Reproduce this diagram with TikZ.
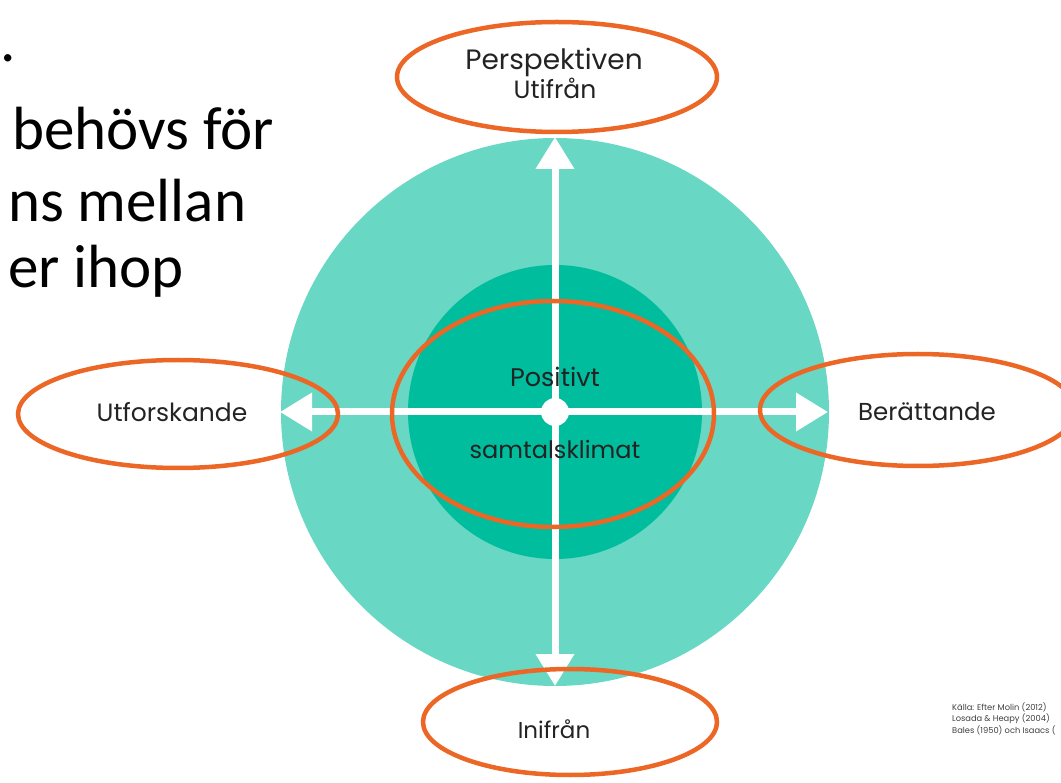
\documentclass[tikz,border=0pt]{standalone}
\usepackage{fontspec}
\setmainfont{Poppins}
\newfontfamily\slidefont{Carlito}
\usetikzlibrary{arrows.meta}
\definecolor{outerteal}{RGB}{104,215,195}
\definecolor{innerteal}{RGB}{0,189,157}
\definecolor{ringorange}{RGB}{236,103,38}
\definecolor{labeltext}{RGB}{35,35,35}
\tikzset{
  ring/.style={draw=ringorange, line width=4.5pt},
  axisline/.style={draw=white, line width=7pt, {Triangle[width=37pt,length=32pt]}-{Triangle[width=37pt,length=32pt]}},
  lbl/.style={text=labeltext, inner sep=0pt, anchor=base},
  slide/.style={font=\slidefont\fontsize{61}{66}\selectfont, text=black, inner sep=0pt, anchor=base west},
  src/.style={font=\fontsize{8.3}{10}\selectfont, text=black!75, inner sep=0pt, anchor=base west}
}
\begin{document}
\begin{tikzpicture}[x=1pt,y=-1pt]
\useasboundingbox (0,0) rectangle (1061,783);
% circles
\fill[outerteal] (555,412) circle (274);
\fill[innerteal] (555,412) circle (147);
% axes
\coordinate (ptop) at (555,137);
\coordinate (pbot) at (555,686);
\coordinate (pleft) at (280,412);
\coordinate (pright) at (828,412);
\draw[axisline] (ptop) -- (pbot);
\draw[axisline] (pleft) -- (pright);
\node[circle, fill=white, minimum size=28pt, inner sep=0pt] (center) at (555,412) {};
% labels
\node[lbl, font=\fontsize{28}{30}\selectfont] (persp) at (554,70) {Perspektiven};
\node[lbl, font=\fontsize{25}{28}\selectfont] (utifran) at (555,99) {Utifrån};
\node[lbl, font=\fontsize{25}{28}\selectfont] (utf) at (172,422) {Utforskande};
\node[lbl, font=\fontsize{24.5}{28}\selectfont] (ber) at (927,421) {Berättande};
\node[lbl, font=\fontsize{23}{26}\selectfont] (inif) at (554,738) {Inifrån};
\node[lbl, font=\fontsize{25.5}{28}\selectfont] (pos) at (555,387) {Positivt};
\node[lbl, font=\fontsize{24}{28}\selectfont] (samt) at (555,459) {samtalsklimat};
% slide text
\node[slide] (s0) at (0,62) {.};
\node[slide] (s1) at (12,150) {behövs för};
\node[slide] (s2) at (8,222) {ns mellan};
\node[slide] (s3) at (8,288) {er ihop};
% source
\node[src] (k1) at (952,710) {Källa: Efter Molin (2012)};
\node[src] (k2) at (952,721.5) {Losada \& Heapy (2004)};
\node[src] (k3) at (952,733) {Bales (1950) och Isaacs (};
% orange rings
\draw[ring] (557,77) ellipse (160 and 55);
\draw[ring] (178,414) ellipse (160 and 54);
\draw[ring] (918,410) ellipse (158 and 56);
\draw[ring] (570,722) ellipse (147 and 53);
\draw[ring] (553,414) ellipse (161 and 113);
\end{tikzpicture}
\end{document}
